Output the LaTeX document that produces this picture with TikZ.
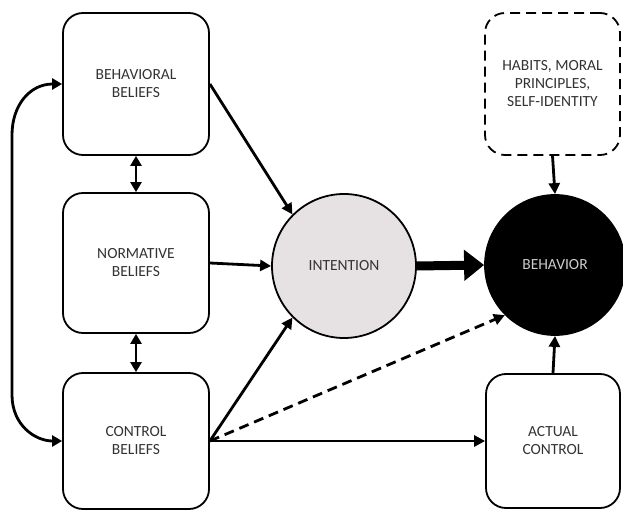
\documentclass[tikz,border=0pt]{standalone}
\usepackage{fontspec}
\setmainfont{Carlito}
\usetikzlibrary{arrows.meta}
\definecolor{txt}{HTML}{333333}
\definecolor{intfill}{HTML}{E6E2E4}
\begin{document}
\begin{tikzpicture}[x=1pt,y=-1pt,
  box/.style={draw, line width=1.8pt, rounded corners=20pt, align=center,
    text=txt, font=\fontsize{15.5}{18}\selectfont, inner sep=0pt},
  circ/.style={circle, draw, line width=1.8pt, minimum size=144pt, inner sep=0pt,
    font=\fontsize{15.5}{18}\selectfont},
  arr/.style={line width=2.8pt, -{Triangle[length=11pt,width=11pt]}},
  darr/.style={line width=2.8pt, {Triangle[length=10pt,width=11pt]}-{Triangle[length=10pt,width=11pt]}},
  big/.style={line width=9pt, -{Triangle[length=20pt,width=30pt]}},
  dsh/.style={dash pattern=on 10pt off 6pt}
]
\useasboundingbox (0,0) rectangle (623,510);
\node[box, minimum width=146pt, minimum height=142pt] (bb) at (136,84) {BEHAVIORAL\\BELIEFS};
\node[box, minimum width=146pt, minimum height=140pt] (nb) at (136,263) {NORMATIVE\\BELIEFS};
\node[box, minimum width=146pt, minimum height=136pt] (cb) at (136,441) {CONTROL\\BELIEFS};
\node[box, dsh, minimum width=135pt, minimum height=142pt] (hb) at (552.5,84) {HABITS, MORAL\\PRINCIPLES,\\SELF-IDENTITY};
\node[box, minimum width=134pt, minimum height=134pt] (ac) at (553,441) {ACTUAL\\CONTROL};
\node[circ, fill=intfill, text=txt] (in) at (344,266) {INTENTION};
\node[circ, fill=black, text=white!80!black, minimum size=140pt] (be) at (555,265) {BEHAVIOR};
\coordinate (lt) at (12,135);
\coordinate (lb) at (12,395);

\draw[darr] (bb.south) -- (nb.north);
\draw[darr] (nb.south) -- (cb.north);
\draw[darr] (bb.west) .. controls (30,84) and (12,105) .. (lt) -- (lb) .. controls (12,425) and (35,441) .. (cb.west);
\draw[arr] (bb.east) -- (in.north west);
\draw[arr] (nb.east) -- (in.west);
\draw[arr] (cb.east) -- (in.south west);
\draw[arr, dsh] (cb.east) -- (be.south west);
\draw[arr] (cb.east) -- (ac.west);
\draw[big] (in.east) -- (be.west);
\draw[arr] (hb.south) -- (be.north);
\draw[arr] (ac.north) -- (be.south);
\end{tikzpicture}
\end{document}
